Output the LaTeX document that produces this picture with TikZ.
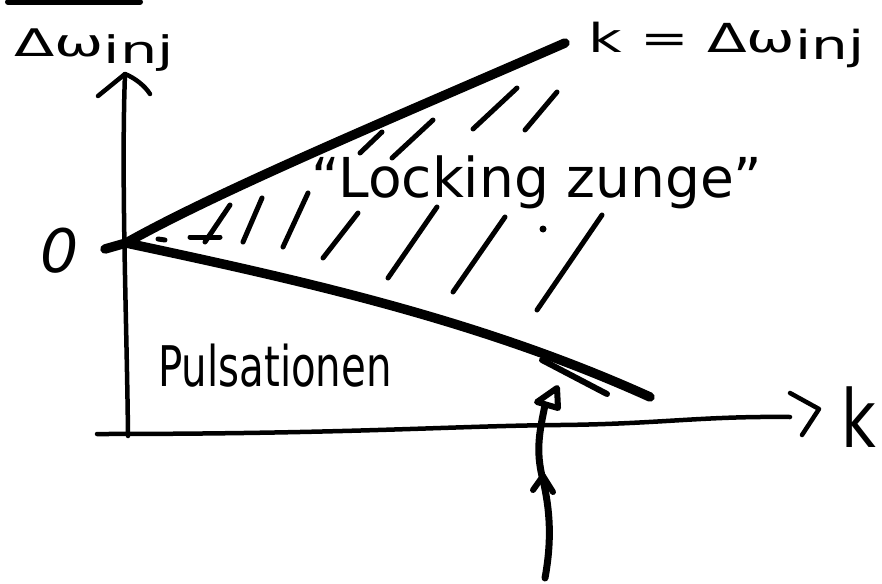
\documentclass[tikz,border=0pt]{standalone}
\usepackage{graphicx}
\usepackage{fontspec}
\setmainfont{DejaVu Sans}
\usetikzlibrary{positioning,calc}

\begin{document}
\begin{tikzpicture}[x=1pt, y=-1pt, line cap=round, line join=round,
    axis/.style={line width=4.5pt},
    border/.style={line width=9.5pt},
    hatch/.style={line width=5pt},
    hand/.style={inner sep=0pt, anchor=base}]
    \fill[white] (0,0) rectangle (882,583);
    \useasboundingbox (0,0) rectangle (882,583);

    % scrap at the top
    \draw[line width=6pt] (8,2) -- (140,2);

    % Axes
    \coordinate (O) at (126,243);
    \coordinate (ytip) at (125,74);
    \coordinate (ybot) at (128,436);
    \coordinate (ybarbL) at (98,96);
    \coordinate (ybarbR) at (150,94);
    \coordinate (xstart) at (97,434);
    \coordinate (xend) at (790,417);
    \coordinate (xhead1) at (790,393);
    \coordinate (xhead2) at (819,409);
    \coordinate (xhead3) at (802,435);
    \draw[axis] (ybot) .. controls (127,330) and (121,180) .. (ytip);
    \draw[axis] (ybarbL) -- (ytip) .. controls (135,78) and (145,86) .. (ybarbR);
    \draw[axis] (xstart) .. controls (350,434) and (450,426) .. (560,425)
        .. controls (660,424) and (700,416) .. (xend);
    \draw[axis] (xhead1) -- (xhead2) -- (xhead3);

    % Labels
    \node[hand, anchor=base west] (wlabel) at (14,57)
        {\fontsize{38}{38}\selectfont\scalebox{1.55}[1]{Δω\raisebox{-.3ex}{inj}}};
    \node[hand, anchor=base west] (klabel) at (588,53)
        {\fontsize{40}{40}\selectfont\scalebox{1.45}[1]{k = Δω\raisebox{-.3ex}{inj}}};
    \node[hand] (zero) at (60,272) {\fontsize{60}{60}\selectfont\itshape 0};
    \node[hand] (kaxis) at (859,447) {\fontsize{80}{80}\selectfont\scalebox{0.75}[1]{k}};
    \node[hand] (tongue) at (537,197) {\fontsize{55}{55}\selectfont “Locking zunge”};
    \node[hand] (puls) at (275,386) {\fontsize{56}{56}\selectfont\scalebox{0.72}[1]{Pulsationen}};

    % Borders of the tongue
    \coordinate (upend) at (565,43);
    \coordinate (lowend) at (650,397);
    \draw[border] (105,249) -- (O) .. controls (220,190) and (400,115) .. (upend);
    \draw[border] (O) .. controls (300,280) and (480,320) .. (lowend);
    \draw[line width=6pt] (542,360) -- (607,394);

    % Hatching
    \foreach \xa/\ya/\xb/\yb in {230/205/205/242, 190/237/220/237, 158/239/165/240,
        262/198/243/242, 308/193/283/247, 358/213/323/258, 437/207/388/278,
        505/217/453/292, 602/215/537/310,
        382/132/360/153, 433/120/392/158, 517/88/473/129, 557/92/525/130}
        \draw[hatch] (\xa,\ya) -- (\xb,\yb);
    \fill (543,229) circle (3.5);

    % Arrow from below
    \coordinate (atail) at (545,578);
    \coordinate (atip) at (557,388);
    \coordinate (aheadL) at (537,402);
    \coordinate (aheadR) at (558,408);
    \draw[line width=7pt] (atail) .. controls (552,540) and (550,510) .. (543,480)
        .. controls (535,450) and (540,430) .. (545,405);
    \draw[line width=6pt] (aheadL) -- (atip) -- (aheadR) -- cycle;
    \draw[line width=6pt] (533,490) -- (543,476) -- (553,492);
\end{tikzpicture}
\end{document}
